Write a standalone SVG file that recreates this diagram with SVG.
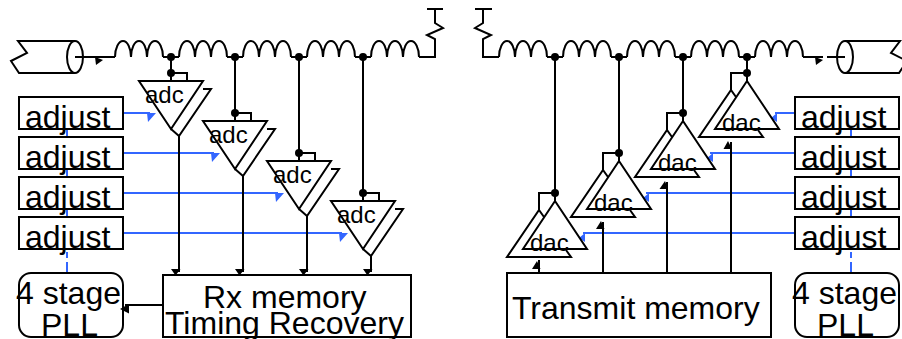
<svg xmlns="http://www.w3.org/2000/svg" width="902" height="339" viewBox="0 0 902 339">
<style>
text{font-family:"Liberation Sans",Arial,sans-serif;fill:#000}
.t32{font-size:32px}
.t24{font-size:24px}
.k{fill:none;stroke:#000;stroke-width:2}
.box{fill:#fff;stroke:#000;stroke-width:2}
.b{fill:none;stroke:#3366ff;stroke-width:2}
.ba{fill:#3366ff}
.a{fill:#000}
</style>
<defs>
<path id="coil" class="k" d="M0 0A8 16 0 0 1 16 0A8 16 0 0 1 32 0A8 16 0 0 1 48 0"/>
<circle id="dot" r="4" fill="#000"/>
<g id="adcShape">
<path class="k" d="M-32 0H32L0 48Z"/>
<path class="k" d="M32 8H40L8 55L0 48"/>
<path class="k" d="M0 -8H16V0"/>
</g>
<g id="dacShape">
<path class="k" d="M0 0L32 48H-32Z"/>
<path class="k" d="M-11 16L-16 9L-48 56H16L11 49"/>
<path class="k" d="M0 -8H-16V9"/>
</g>
</defs>
<g id="connectors">
<g id="blue">
<path class="b" d="M67 129V137M67 169V177M67 209V217M67 252V258M67 262V273"/>
<path class="b" d="M851 129V137M851 169V177M851 209V217M851 252V258M851 262V273"/>
<path class="b" d="M123 113H150M123 153H214M123 193H278M123 233H342"/>
<path class="ba" d="M147 113H156L148 122ZM211 153H220L212 162ZM275 193H284L276 202ZM339 233H348L340 242Z"/>
<path class="b" d="M795 113H775M795 153H710M795 193H646M795 233H583"/>
<path class="ba" d="M771 118L777 113V122ZM707 158L713 153V162ZM643 198L649 193V202ZM579 238L585 233V242Z"/>
</g>
<g id="line-left">
<path class="k" d="M75 57H115"/>
<path class="a" d="M95 57L103 60L96 65Z"/>
<use href="#coil" x="115" y="57"/><use href="#coil" x="179" y="57"/><use href="#coil" x="243" y="57"/><use href="#coil" x="307" y="57"/><use href="#coil" x="371" y="57"/>
<path class="k" d="M163 57H179M227 57H243M291 57H307M355 57H371M419 57H435V39L427 35L443 28L435 23V9M427 9H443"/>
<path class="k" d="M171 57V81M235 57V121M299 57V161M363 57V201"/>
<use href="#dot" x="171" y="57"/><use href="#dot" x="235" y="57"/><use href="#dot" x="299" y="57"/><use href="#dot" x="363" y="57"/>
<path class="k" d="M179 136V272M243 176V272M307 216V272M371 256V272"/>
<path class="a" d="M171 269H180.500L175.500 275.500ZM235 269H244.500L239.500 275.500ZM299 269H308.500L303.500 275.500ZM363 269H372.500L367.500 275.500Z"/>
<path class="k" d="M163 305H125"/>
<path class="a" d="M120 309L129 304V313.500Z"/>
</g>
<g id="line-right">
<path class="k" d="M492 9H475M483 9V23L475 28L491 35L483 39V57H499"/>
<use href="#coil" x="499" y="57"/><use href="#coil" x="563" y="57"/><use href="#coil" x="627" y="57"/><use href="#coil" x="691" y="57"/><use href="#coil" x="755" y="57"/>
<path class="k" d="M547 57H563M611 57H627M675 57H691M739 57H755M803 57H823M827 57H845"/>
<path class="a" d="M815 57L823 60L816 65Z"/>
<path class="k" d="M555 57V201M619 57V161M683 57V121M747 57V81"/>
<use href="#dot" x="555" y="57"/><use href="#dot" x="619" y="57"/><use href="#dot" x="683" y="57"/><use href="#dot" x="747" y="57"/>
<path class="k" d="M539 273V260M603 273V222M667 273V182M731 273V142"/>
<path class="a" d="M532 269H540.500L537 261ZM596 229H604.500L601 221ZM659.500 189H668L665 181ZM723.500 149H732L728 141Z"/>
</g>
</g>
<g id="cable-left">
<path class="k" d="M75 41H18L27 53L11 61L19 73H75"/>
<ellipse class="k" cx="75" cy="57" rx="8" ry="16"/>
</g>
<g id="cable-right">
<path class="k" d="M845 41H900L891 53L907 61L899 73H845"/>
<ellipse class="k" cx="845" cy="57" rx="8" ry="16"/>
</g>
<g id="adc1" transform="translate(171 81)"><use href="#adcShape"/><use href="#dot" y="-8"/><text class="t24" x="-26" y="22">adc</text></g>
<g id="adc2" transform="translate(235 121)"><use href="#adcShape"/><use href="#dot" y="-8"/><text class="t24" x="-26" y="22">adc</text></g>
<g id="adc3" transform="translate(299 161)"><use href="#adcShape"/><use href="#dot" y="-8"/><text class="t24" x="-26" y="22">adc</text></g>
<g id="adc4" transform="translate(363 201)"><use href="#adcShape"/><use href="#dot" y="-8"/><text class="t24" x="-26" y="22">adc</text></g>
<g id="dac1" transform="translate(555 201)"><use href="#dacShape"/><use href="#dot" y="-8"/><text class="t24" x="-25" y="50">dac</text></g>
<g id="dac2" transform="translate(619 161)"><use href="#dacShape"/><use href="#dot" y="-8"/><text class="t24" x="-25" y="50">dac</text></g>
<g id="dac3" transform="translate(683 121)"><use href="#dacShape"/><use href="#dot" y="-8"/><text class="t24" x="-25" y="50">dac</text></g>
<g id="dac4" transform="translate(747 81)"><use href="#dacShape"/><use href="#dot" y="-8"/><text class="t24" x="-25" y="50">dac</text></g>
<g id="adjust-l1"><rect class="box" x="19" y="97" width="104" height="32"/><text class="t32" x="25" y="128">adjust</text></g>
<g id="adjust-l2"><rect class="box" x="19" y="137" width="104" height="32"/><text class="t32" x="25" y="168">adjust</text></g>
<g id="adjust-l3"><rect class="box" x="19" y="177" width="104" height="32"/><text class="t32" x="25" y="208">adjust</text></g>
<g id="adjust-l4"><rect class="box" x="19" y="217" width="104" height="32"/><text class="t32" x="25" y="248">adjust</text></g>
<g id="adjust-r1"><rect class="box" x="795" y="97" width="104" height="32"/><text class="t32" x="801" y="128">adjust</text></g>
<g id="adjust-r2"><rect class="box" x="795" y="137" width="104" height="32"/><text class="t32" x="801" y="168">adjust</text></g>
<g id="adjust-r3"><rect class="box" x="795" y="177" width="104" height="32"/><text class="t32" x="801" y="208">adjust</text></g>
<g id="adjust-r4"><rect class="box" x="795" y="217" width="104" height="32"/><text class="t32" x="801" y="248">adjust</text></g>
<g id="pll-left"><rect class="k" x="19" y="273" width="104" height="64" rx="12"/><text class="t32" x="16" y="304">4 stage</text><text class="t32" x="41" y="336">PLL</text></g>
<g id="pll-right"><rect class="k" x="795" y="273" width="104" height="64" rx="12"/><text class="t32" x="792" y="304">4 stage</text><text class="t32" x="817" y="336">PLL</text></g>
<g id="rx-memory"><rect class="k" x="163" y="275" width="248" height="62"/><text class="t32" x="203" y="308">Rx memory</text><text class="t32" x="165" y="334">Timing Recovery</text></g>
<g id="transmit-memory"><rect class="k" x="507" y="273" width="264" height="64"/><text class="t32" x="512" y="319">Transmit memory</text></g>
</svg>
